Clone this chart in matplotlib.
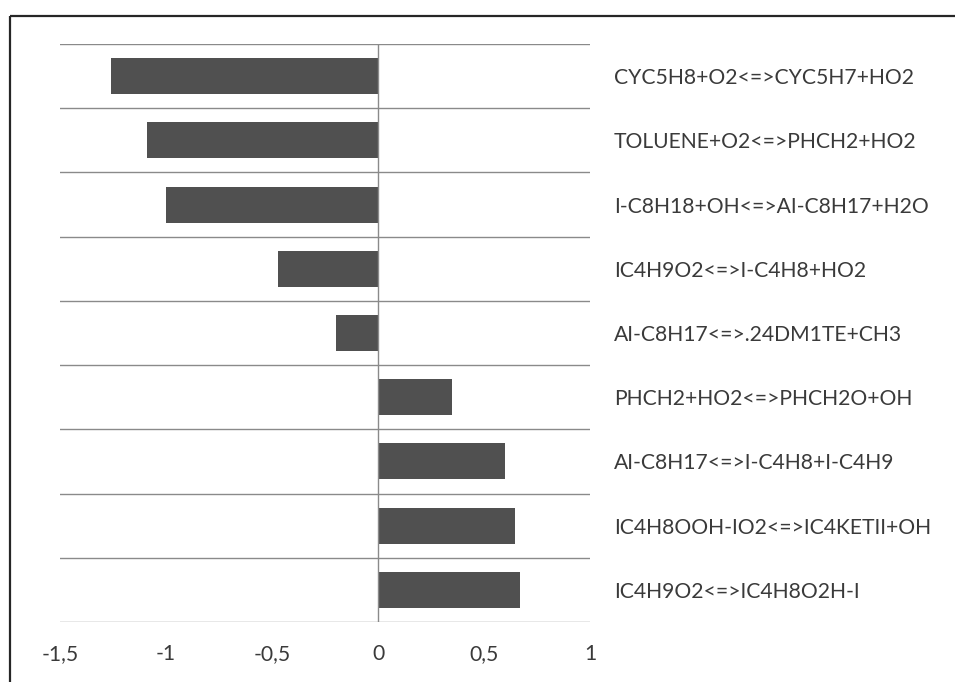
import matplotlib
matplotlib.use("Agg")
import matplotlib.pyplot as plt
from matplotlib.lines import Line2D
import numpy as np

# Sensitivity coefficients of the main reactions
reactions = [
    "CYC5H8+O2<=>CYC5H7+HO2",
    "TOLUENE+O2<=>PHCH2+HO2",
    "I-C8H18+OH<=>AI-C8H17+H2O",
    "IC4H9O2<=>I-C4H8+HO2",
    "AI-C8H17<=>.24DM1TE+CH3",
    "PHCH2+HO2<=>PHCH2O+OH",
    "AI-C8H17<=>I-C4H8+I-C4H9",
    "IC4H8OOH-IO2<=>IC4KETII+OH",
    "IC4H9O2<=>IC4H8O2H-I",
]
sensitivity = [-1.26, -1.09, -1.0, -0.47, -0.2, 0.35, 0.6, 0.645, 0.67]
x_ticks = [-1.5, -1.0, -0.5, 0.0, 0.5, 1.0]
x_tick_labels = ["-1,5", "-1", "-0,5", "0", "0,5", "1"]

W, H, DPI = 959, 682, 100
fig = plt.figure(figsize=(W / DPI, H / DPI), dpi=DPI)
fig.patch.set_facecolor("white")

# chart-area border: left and top edges
bx, by = 10 / W, 1 - 16 / H
border = dict(transform=fig.transFigure, color="#262626", linewidth=1.6,
              solid_capstyle="butt")
fig.add_artist(Line2D([bx, bx], [0, by], **border))
fig.add_artist(Line2D([bx, (W - 4) / W], [by, by], **border))

left, right, top, bottom = 60, 590, 44, 622
ax = fig.add_axes([left / W, 1 - bottom / H, (right - left) / W, (bottom - top) / H])

font = "Lato"
text_color = "#3a3a3a"
px = 72 / DPI
n = len(reactions)
pos = np.arange(n)

ax.barh(pos, sensitivity, height=0.56, color="#505050", zorder=3)

ax.set_xlim(-1.5, 1.0)
ax.set_ylim(n - 0.5, -0.5)

# category boundaries as horizontal gridlines
for b in np.arange(-0.5, n, 1.0):
    ax.axhline(b, color="#8a8a8a", linewidth=1.0, zorder=2)
# category axis line at zero
ax.axvline(0, color="#8a8a8a", linewidth=1.0, zorder=4)

for s in ax.spines.values():
    s.set_visible(False)

ax.yaxis.tick_right()
ax.set_yticks(pos)
ax.set_yticklabels(reactions, fontsize=15.2, family=font, color=text_color)
ax.tick_params(axis="y", length=0, pad=24 * px)

ax.set_xticks(x_ticks)
ax.set_xticklabels(x_tick_labels, fontsize=15.2, family=font, color=text_color)
ax.tick_params(axis="x", length=0, pad=22 * px)

ax.set_facecolor("none")
fig.savefig("out.png", dpi=DPI, facecolor="white")
